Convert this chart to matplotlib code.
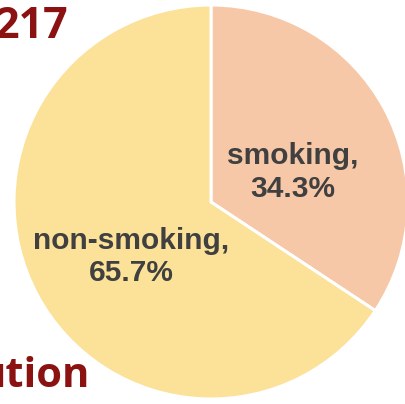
import matplotlib
matplotlib.use('agg')
import matplotlib.pyplot as plt

labels = ["smoking", "non-smoking"]
shares = [34.3, 65.7]
colors = ["#F6C8A7", "#FCE198"]
label_pos = [(0.416, 0.15), (-0.406, -0.28)]

fig = plt.figure(figsize=(4.06, 4.04), dpi=100)
W, H = 406, 404
cx, cy, r = 211, 202, 197
ax = fig.add_axes([(cx - r) / W, (H - cy - r) / H, 2 * r / W, 2 * r / H])

ax.pie(shares, colors=colors, startangle=90, counterclock=False,
       wedgeprops=dict(edgecolor="white", linewidth=2.2))
ax.set_xlim(-1, 1)
ax.set_ylim(-1, 1)
ax.set_aspect('auto')
ax.axis('off')

for lab, val, (x, y) in zip(labels, shares, label_pos):
    ax.text(x, y, "{},\n{:.1f}%".format(lab, val), ha='center', va='center',
            fontsize=21.5, fontweight='bold', color='#404040',
            family='Liberation Sans', linespacing=1.2)

# slide title fragments cut off by the crop
fig.text(68 / W, 1 - 38 / H, "217", ha='right', va='baseline',
         fontsize=31, fontweight='bold', color='#8C1111', family='Open Sans')
fig.text(90 / W, 1 - 387 / H, "ution", ha='right', va='baseline',
         fontsize=30, fontweight='bold', color='#8C1111', family='Open Sans')

fig.savefig("out.png", dpi=100, facecolor='white')
